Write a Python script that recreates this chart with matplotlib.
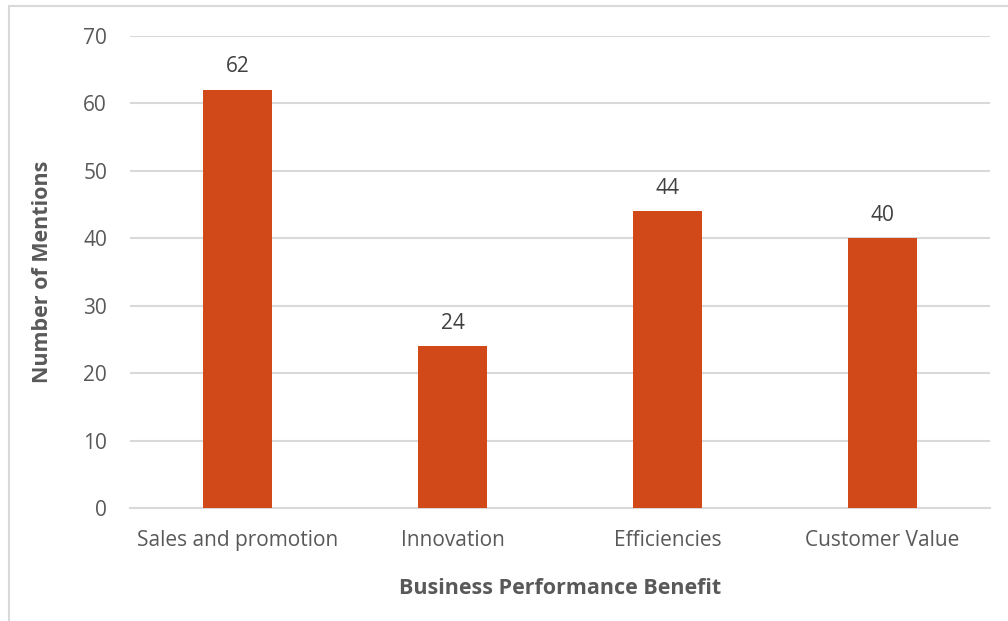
import matplotlib
matplotlib.use("Agg")
import matplotlib.pyplot as plt
from matplotlib.patches import Rectangle

categories = ["Sales and promotion", "Innovation", "Efficiencies", "Customer Value"]
mentions = [62, 24, 44, 40]

BAR = "#D14918"; TXT = "#595959"; GRID = "#D9D9D9"
plt.rcParams.update({"font.family": ["Open Sans", "DejaVu Sans"]})

fig = plt.figure(figsize=(10.08, 6.21), dpi=100)
fig.patch.set_facecolor("white")
fig.patches.append(Rectangle((9 / 1008, -0.1), 1.2, 1 - 6 / 621 + 0.1, transform=fig.transFigure,
                             fill=False, edgecolor=GRID, lw=1.5, zorder=0))

ax = fig.add_axes([130 / 1008, 1 - 508 / 621, 860 / 1008, 472 / 621])
x = range(len(categories))
bars = ax.bar(x, mentions, width=0.32, color=BAR, zorder=3)
for b, v in zip(bars, mentions):
    ax.annotate(str(v), (b.get_x() + b.get_width() / 2, v), xytext=(0, 9), textcoords="offset points",
                ha="center", va="bottom", fontsize=15, color="#404040")

ax.set_xlim(-0.5, len(categories) - 0.5)
ax.set_ylim(0, 70)
ax.set_yticks(range(0, 71, 10))
ax.set_xticks(list(x))
ax.set_xticklabels(categories)
ax.tick_params(length=0, labelsize=15, labelcolor=TXT)
ax.tick_params(axis="y", pad=16.5)
ax.tick_params(axis="x", pad=16)
ax.grid(axis="y", color=GRID, lw=1.5, zorder=0)
for s in ["top", "right", "left"]:
    ax.spines[s].set_visible(False)
ax.spines["bottom"].set_color(GRID)
ax.spines["bottom"].set_linewidth(1.5)

ax.set_xlabel("Business Performance Benefit", fontsize=15.5, weight="bold", color=TXT, labelpad=19.5)
ax.set_ylabel("Number of Mentions", fontsize=15.5, weight="bold", color=TXT, labelpad=22)

plt.savefig("out.png", dpi=100, facecolor="white")
